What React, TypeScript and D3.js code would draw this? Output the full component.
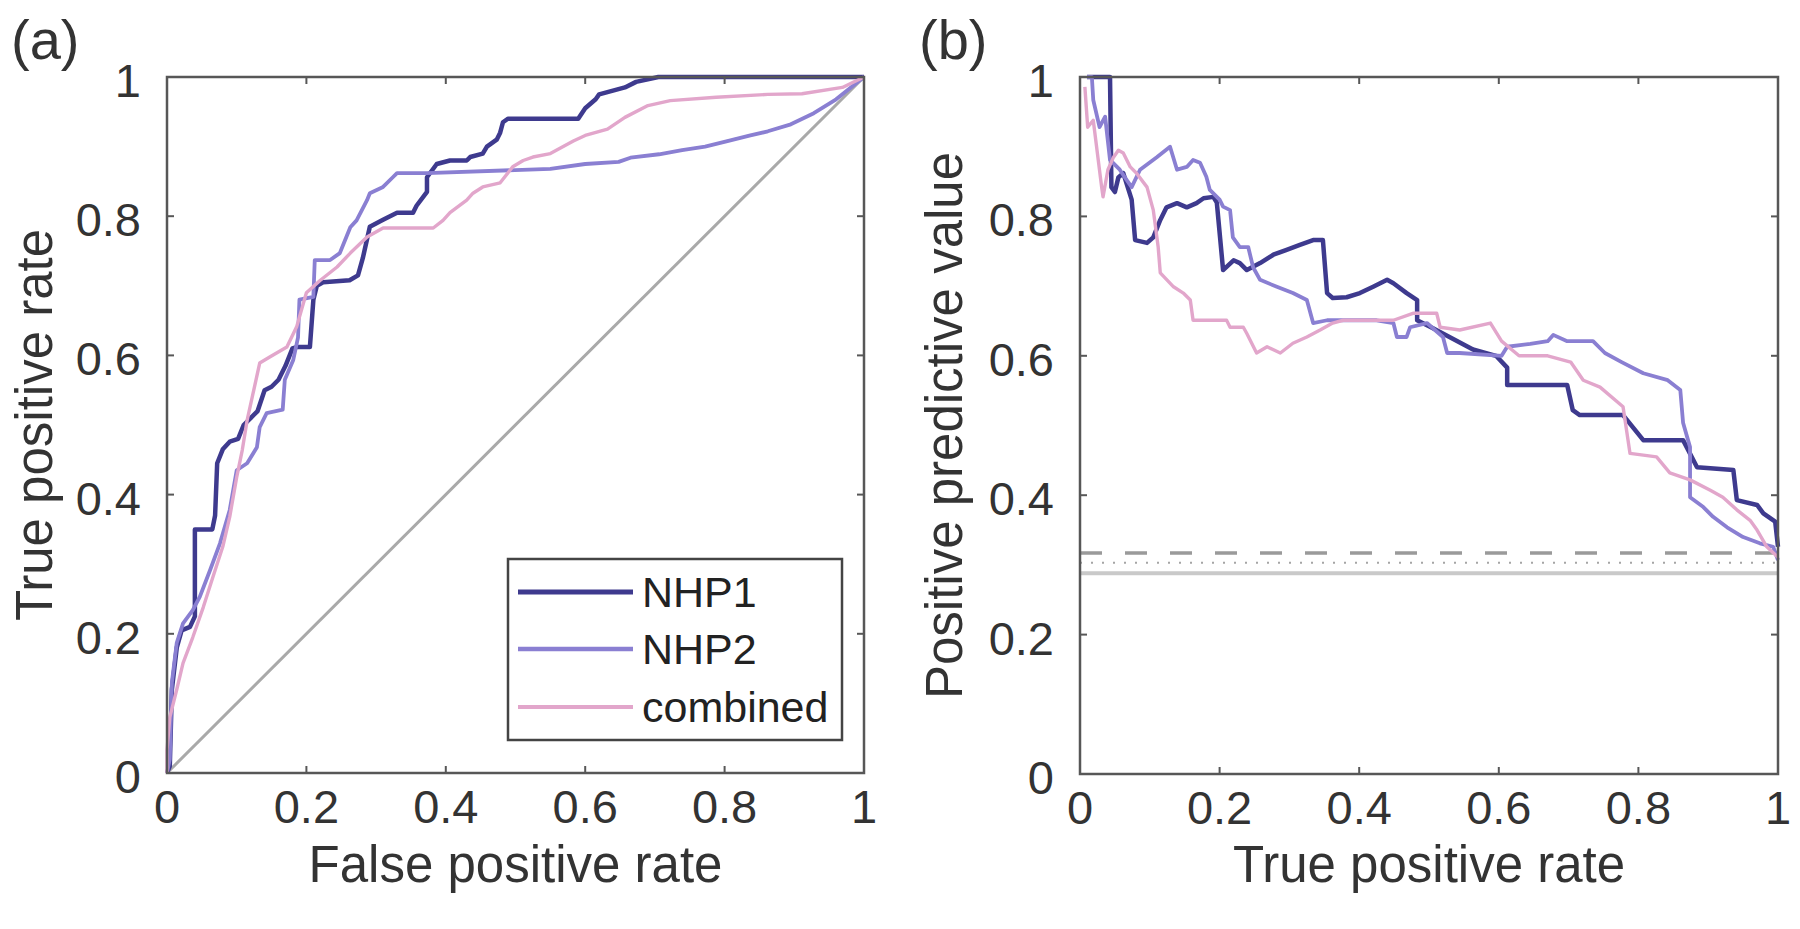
import React from "react";
import * as d3 from "d3";

// ---------- DATA ----------
const tickValues = [0, 0.2, 0.4, 0.6, 0.8, 1];
const tickLabels = ["0", "0.2", "0.4", "0.6", "0.8", "1"];
const seriesNames = ["NHP1", "NHP2", "combined"];
const seriesColors = ["#3e3a8e", "#8a7fd2", "#e2a6cb"];

// Panel (a): ROC curves [false positive rate, true positive rate]
const rocNHP1: [number, number][] = [
  [0, 0], [0.004, 0.01], [0.007, 0.12], [0.014, 0.18], [0.021, 0.205], [0.033, 0.21], [0.04, 0.225],
  [0.04, 0.35], [0.065, 0.35], [0.069, 0.37], [0.072, 0.445], [0.08, 0.465], [0.09, 0.476], [0.102, 0.48],
  [0.11, 0.5], [0.12, 0.51], [0.13, 0.52], [0.14, 0.55], [0.15, 0.555], [0.16, 0.565], [0.17, 0.585],
  [0.18, 0.61], [0.186, 0.612], [0.205, 0.612], [0.21, 0.68], [0.215, 0.7], [0.224, 0.705], [0.262, 0.708],
  [0.274, 0.715], [0.281, 0.74], [0.291, 0.785], [0.31, 0.795], [0.33, 0.805], [0.353, 0.805], [0.358, 0.815],
  [0.373, 0.835], [0.373, 0.856], [0.387, 0.875], [0.406, 0.88], [0.43, 0.88], [0.435, 0.885], [0.453, 0.89],
  [0.459, 0.9], [0.473, 0.91], [0.478, 0.92], [0.482, 0.935], [0.489, 0.94], [0.59, 0.94], [0.6, 0.955],
  [0.615, 0.968], [0.62, 0.975], [0.657, 0.985], [0.673, 0.993], [0.705, 1.0], [1, 1],
];
const rocNHP2: [number, number][] = [
  [0, 0], [0.004, 0.02], [0.007, 0.13], [0.014, 0.187], [0.023, 0.215], [0.037, 0.234], [0.047, 0.253],
  [0.062, 0.292], [0.076, 0.33], [0.09, 0.378], [0.1, 0.435], [0.115, 0.445], [0.129, 0.468], [0.133, 0.497],
  [0.143, 0.517], [0.166, 0.522], [0.169, 0.565], [0.181, 0.593], [0.188, 0.626], [0.19, 0.68], [0.21, 0.684],
  [0.212, 0.737], [0.234, 0.737], [0.248, 0.747], [0.263, 0.784], [0.272, 0.794], [0.287, 0.823], [0.291, 0.833],
  [0.31, 0.842], [0.324, 0.856], [0.33, 0.862], [0.373, 0.862], [0.55, 0.868], [0.6, 0.875], [0.648, 0.878],
  [0.665, 0.884], [0.706, 0.889], [0.739, 0.895], [0.772, 0.9], [0.804, 0.908], [0.837, 0.916], [0.862, 0.922],
  [0.895, 0.932], [0.928, 0.948], [0.96, 0.968], [1, 1],
];
const rocCombined: [number, number][] = [
  [0, 0], [0, 0.033], [0.004, 0.08], [0.014, 0.12], [0.023, 0.158], [0.037, 0.195], [0.052, 0.238],
  [0.066, 0.282], [0.08, 0.325], [0.09, 0.368], [0.1, 0.425], [0.108, 0.464], [0.115, 0.507], [0.133, 0.589],
  [0.148, 0.598], [0.172, 0.612], [0.186, 0.641], [0.2, 0.69], [0.22, 0.708], [0.244, 0.727], [0.263, 0.747],
  [0.287, 0.77], [0.31, 0.783], [0.382, 0.783], [0.396, 0.794], [0.406, 0.805], [0.43, 0.823], [0.439, 0.833],
  [0.453, 0.842], [0.478, 0.848], [0.496, 0.871], [0.511, 0.88], [0.525, 0.885], [0.55, 0.89], [0.583, 0.908],
  [0.6, 0.916], [0.632, 0.925], [0.657, 0.942], [0.69, 0.959], [0.722, 0.966], [0.788, 0.971], [0.862, 0.975],
  [0.911, 0.976], [0.969, 0.985], [1, 1],
];
const chanceROC: [number, number][] = [[0, 0], [1, 1]];

// Panel (b): precision-recall curves [true positive rate, positive predictive value]
const prNHP1: [number, number][] = [
  [0.01, 1.0], [0.043, 1.0], [0.045, 0.842], [0.05, 0.835], [0.055, 0.856], [0.062, 0.862], [0.074, 0.824],
  [0.079, 0.766], [0.096, 0.762], [0.105, 0.77], [0.115, 0.795], [0.124, 0.813], [0.139, 0.819], [0.153, 0.813],
  [0.167, 0.819], [0.177, 0.826], [0.191, 0.828], [0.196, 0.82], [0.205, 0.723], [0.22, 0.737], [0.229, 0.733],
  [0.239, 0.723], [0.258, 0.733], [0.277, 0.745], [0.296, 0.752], [0.315, 0.759], [0.334, 0.766], [0.348, 0.766],
  [0.354, 0.69], [0.362, 0.683], [0.382, 0.684], [0.401, 0.69], [0.42, 0.699], [0.44, 0.709], [0.449, 0.704],
  [0.468, 0.69], [0.483, 0.68], [0.483, 0.651], [0.505, 0.64], [0.563, 0.609], [0.596, 0.6], [0.612, 0.583],
  [0.612, 0.558], [0.698, 0.558], [0.706, 0.522], [0.716, 0.515], [0.778, 0.515], [0.807, 0.479], [0.864, 0.479],
  [0.884, 0.44], [0.936, 0.436], [0.941, 0.393], [0.97, 0.386], [0.979, 0.374], [0.996, 0.362], [1, 0.326],
];
const prNHP2: [number, number][] = [
  [0.01, 1.0], [0.017, 1.0], [0.019, 0.967], [0.028, 0.928], [0.036, 0.943], [0.043, 0.881], [0.057, 0.867],
  [0.067, 0.852], [0.074, 0.842], [0.086, 0.867], [0.11, 0.885], [0.129, 0.9], [0.139, 0.867], [0.153, 0.871],
  [0.162, 0.881], [0.172, 0.877], [0.181, 0.857], [0.186, 0.838], [0.2, 0.824], [0.205, 0.814], [0.215, 0.809],
  [0.219, 0.77], [0.229, 0.756], [0.241, 0.756], [0.248, 0.727], [0.258, 0.709], [0.282, 0.699], [0.305, 0.69],
  [0.325, 0.68], [0.334, 0.647], [0.354, 0.651], [0.425, 0.651], [0.449, 0.647], [0.454, 0.627], [0.468, 0.627],
  [0.473, 0.641], [0.497, 0.647], [0.52, 0.627], [0.526, 0.604], [0.544, 0.604], [0.604, 0.6], [0.612, 0.613],
  [0.645, 0.617], [0.67, 0.621], [0.678, 0.63], [0.698, 0.621], [0.735, 0.621], [0.752, 0.604], [0.776, 0.591],
  [0.807, 0.575], [0.842, 0.565], [0.86, 0.551], [0.864, 0.504], [0.874, 0.469], [0.874, 0.397], [0.893, 0.383],
  [0.907, 0.369], [0.927, 0.354], [0.95, 0.34], [0.974, 0.331], [0.993, 0.326], [1, 0.307],
];
const prCombined: [number, number][] = [
  [0.007, 0.986], [0.011, 0.928], [0.019, 0.938], [0.031, 0.842], [0.033, 0.828], [0.04, 0.867], [0.048, 0.885],
  [0.055, 0.895], [0.062, 0.891], [0.067, 0.881], [0.072, 0.871], [0.081, 0.862], [0.096, 0.842], [0.105, 0.809],
  [0.112, 0.756], [0.115, 0.719], [0.134, 0.699], [0.148, 0.69], [0.158, 0.68], [0.162, 0.651], [0.21, 0.651],
  [0.215, 0.641], [0.234, 0.641], [0.239, 0.632], [0.253, 0.604], [0.268, 0.613], [0.287, 0.604], [0.305, 0.618],
  [0.325, 0.627], [0.344, 0.637], [0.362, 0.647], [0.377, 0.651], [0.449, 0.651], [0.477, 0.661], [0.511, 0.661],
  [0.516, 0.641], [0.544, 0.637], [0.588, 0.647], [0.604, 0.621], [0.629, 0.6], [0.67, 0.6], [0.703, 0.591],
  [0.721, 0.565], [0.745, 0.555], [0.778, 0.527], [0.788, 0.46], [0.826, 0.455], [0.845, 0.432], [0.874, 0.422],
  [0.903, 0.407], [0.921, 0.397], [0.941, 0.379], [0.96, 0.364], [0.97, 0.35], [0.984, 0.326], [1, 0.311],
];
// chance levels (horizontal reference lines) in panel (b)
const chanceLevels = [0.317, 0.303, 0.288];
const chanceStyles = ["dashed", "dotted", "solid"];

// ---------- LAYOUT ----------
const W = 1800;
const H = 929;
const FONT = "'Liberation Sans', Arial, Helvetica, sans-serif";
const AXIS_COLOR = "#575757";
const TEXT_COLOR = "#333333";

const xA = d3.scaleLinear().domain([0, 1]).range([167, 864]);
const yA = d3.scaleLinear().domain([0, 1]).range([773, 77]);
const xB = d3.scaleLinear().domain([0, 1]).range([1080, 1778]);
const yB = d3.scaleLinear().domain([0, 1]).range([774, 77]);

type Scale = d3.ScaleLinear<number, number>;

function Axes({ x, y }: { x: Scale; y: Scale }) {
  const [x0, x1] = x.range();
  const [y0, y1] = y.range();
  const tl = 7;
  return (
    <g>
      <rect x={x0} y={y1} width={x1 - x0} height={y0 - y1} fill="none" stroke={AXIS_COLOR} strokeWidth={2.5} />
      {tickValues.map((t, i) => (
        <g key={"t" + i}>
          <line x1={x(t)} x2={x(t)} y1={y0} y2={y0 - tl} stroke={AXIS_COLOR} strokeWidth={2} />
          <line x1={x(t)} x2={x(t)} y1={y1} y2={y1 + tl} stroke={AXIS_COLOR} strokeWidth={2} />
          <line x1={x0} x2={x0 + tl} y1={y(t)} y2={y(t)} stroke={AXIS_COLOR} strokeWidth={2} />
          <line x1={x1} x2={x1 - tl} y1={y(t)} y2={y(t)} stroke={AXIS_COLOR} strokeWidth={2} />
          <text x={x(t)} y={y0 + 50} textAnchor="middle" fontSize={47} fill={TEXT_COLOR} fontFamily={FONT}>
            {tickLabels[i]}
          </text>
          <text x={x0 - 26} y={y(t) + 20} textAnchor="end" fontSize={47} fill={TEXT_COLOR} fontFamily={FONT}>
            {tickLabels[i]}
          </text>
        </g>
      ))}
    </g>
  );
}

export default function App() {
  const lineA = d3.line<[number, number]>().x((d) => xA(d[0])).y((d) => yA(d[1]));
  const lineB = d3.line<[number, number]>().x((d) => xB(d[0])).y((d) => yB(d[1]));
  const rocSeries = [rocNHP1, rocNHP2, rocCombined];
  const prSeries = [prNHP1, prNHP2, prCombined];
  const widths = [4.5, 3.8, 3.4];

  const legendX = 508;
  const legendY = 559;
  const legendRowY = [592, 649, 707];

  return (
    <div style={{ position: "absolute", left: 0, top: 0, width: W, height: H, background: "#fff" }}>
      <svg width={W} height={H} viewBox={`0 0 ${W} ${H}`}>
        <rect width={W} height={H} fill="#fff" />

        {/* Panel (a) */}
        <path d={lineA(chanceROC) || ""} fill="none" stroke="#a9a9a9" strokeWidth={3} />
        {rocSeries.map((s, i) => (
          <path key={"a" + i} d={lineA(s) || ""} fill="none" stroke={seriesColors[i]} strokeWidth={widths[i]} strokeLinejoin="round" />
        ))}
        <Axes x={xA} y={yA} />
        <text x={(xA(0) + xA(1)) / 2} y={882} textAnchor="middle" fontSize={51} fill={TEXT_COLOR} fontFamily={FONT}>
          False positive rate
        </text>
        <text
          transform={`translate(52, ${(yA(0) + yA(1)) / 2}) rotate(-90)`}
          textAnchor="middle"
          fontSize={51}
          fill={TEXT_COLOR}
          fontFamily={FONT}
        >
          True positive rate
        </text>
        <text x={11} y={59} fontSize={56} fill={TEXT_COLOR} fontFamily={FONT}>(a)</text>

        {/* Legend */}
        <rect x={legendX} y={legendY} width={334} height={181} fill="#fff" stroke="#444" strokeWidth={2.5} />
        {seriesNames.map((n, i) => (
          <g key={"lg" + i}>
            <line x1={518} x2={633} y1={legendRowY[i]} y2={legendRowY[i]} stroke={seriesColors[i]} strokeWidth={widths[i] + 0.5} />
            <text x={642} y={legendRowY[i] + 15} fontSize={43} fill="#222" fontFamily={FONT}>{n}</text>
          </g>
        ))}

        {/* Panel (b) */}
        {chanceLevels.map((v, i) => (
          <line
            key={"c" + i}
            x1={xB(0)}
            x2={xB(1)}
            y1={yB(v)}
            y2={yB(v)}
            stroke={chanceStyles[i] === "solid" ? "#c9c9c9" : chanceStyles[i] === "dashed" ? "#9a9a9a" : "#a5a5a5"}
            strokeWidth={chanceStyles[i] === "solid" ? 4 : chanceStyles[i] === "dashed" ? 3.5 : 2}
            strokeDasharray={chanceStyles[i] === "dashed" ? "22 23" : chanceStyles[i] === "dotted" ? "2 9" : undefined}
          />
        ))}
        {prSeries.map((s, i) => (
          <path key={"b" + i} d={lineB(s) || ""} fill="none" stroke={seriesColors[i]} strokeWidth={widths[i]} strokeLinejoin="round" />
        ))}
        <Axes x={xB} y={yB} />
        <text x={(xB(0) + xB(1)) / 2} y={882} textAnchor="middle" fontSize={51} fill={TEXT_COLOR} fontFamily={FONT}>
          True positive rate
        </text>
        <text
          transform={`translate(962, ${(yB(0) + yB(1)) / 2}) rotate(-90)`}
          textAnchor="middle"
          fontSize={51}
          fill={TEXT_COLOR}
          fontFamily={FONT}
        >
          Positive predictive value
        </text>
        <text x={919} y={59} fontSize={56} fill={TEXT_COLOR} fontFamily={FONT}>(b)</text>
      </svg>
    </div>
  );
}
